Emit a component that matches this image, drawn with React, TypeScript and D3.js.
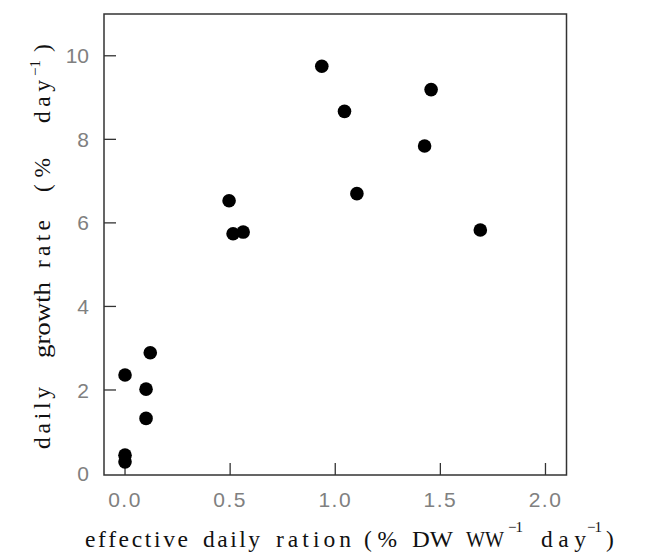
import React from "react";
import * as d3 from "d3";

const rationX: number[] = [0.0, 0.0, 0.0, 0.10, 0.10, 0.12, 0.495, 0.514, 0.562, 0.936, 1.044, 1.103, 1.425, 1.456, 1.690];
const growthY: number[] = [2.36, 0.44, 0.28, 2.02, 1.32, 2.89, 6.53, 5.74, 5.78, 9.75, 8.67, 6.70, 7.84, 9.19, 5.83];
const xTicks: number[] = [0, 0.5, 1.0, 1.5, 2.0];
const xTickLabels: string[] = ["0.0", "0.5", "1.0", "1.5", "2.0"];
const yTicks: number[] = [0, 2, 4, 6, 8, 10];
const yTickLabels: string[] = ["0", "2", "4", "6", "8", "10"];

// x-axis title pieces: [text, start, width, superscript?, squeeze glyphs?]
const xTitle: [string, number, number, boolean, boolean][] = [
  ["effective", 85, 103, false, false],
  ["daily", 203, 57, false, false],
  ["ration", 276, 75, false, false],
  ["(%", 364, 33, false, false],
  ["DW", 412, 41, false, true],
  ["WW", 466, 38, false, true],
  ["−1", 508, 15, true, false],
  ["day", 541, 45, false, false],
  ["−1", 587, 15, true, false],
  [")", 606, 11, false, false],
];
// y-axis title pieces: [text, bottom, length, superscript?, squeeze glyphs?]
const yTitle: [string, number, number, boolean, boolean][] = [
  ["daily", 449, 62, false, false],
  ["growth", 358, 76, false, true],
  ["rate", 268, 48, false, false],
  ["(%", 192, 34, false, false],
  ["day", 123, 43, false, false],
  ["−1", 76, 16, true, false],
  [")", 52, 12, false, false],
];

const W = 661;
const H = 553;
const left = 104, right = 566.5, top = 14, bottom = 475;

export default function App() {
  const x = d3.scaleLinear().domain([-0.1, 2.1]).range([left, right]);
  const y = d3.scaleLinear().domain([-0.035, 11]).range([bottom, top]);
  const pts = rationX.map((v, i) => ({ x: v, y: growthY[i] }));
  const serif = "'Liberation Serif', 'DejaVu Serif', serif";
  const sans = "'Liberation Sans', Arial, sans-serif";
  const axisCol = "#333";
  const labCol = "#808080";
  const tickLen = 12;
  return (
    <svg width={W} height={H} style={{ position: "absolute", left: 0, top: 0, background: "#fff" }}>
      <rect x={0} y={0} width={W} height={H} fill="#fff" />
      <rect x={left} y={top} width={right - left} height={bottom - top} fill="none" stroke={axisCol} strokeWidth={1.5} />
      {xTicks.map((t, i) => (
        <g key={"xt" + i}>
          <line x1={x(t)} x2={x(t)} y1={bottom} y2={bottom - tickLen} stroke={axisCol} strokeWidth={1.3} />
          <text x={x(t)} y={507} textAnchor="middle" fontFamily={sans} fontSize={21} letterSpacing={1.5} fill={labCol}>
            {xTickLabels[i]}
          </text>
        </g>
      ))}
      {yTicks.map((t, i) => (
        <g key={"yt" + i}>
          {t > 0 && <line x1={left} x2={left + tickLen} y1={y(t)} y2={y(t)} stroke={axisCol} strokeWidth={1.3} />}
          <text x={89} y={y(t) + 2} dominantBaseline="middle" textAnchor="end" fontFamily={sans} fontSize={21} fill={labCol}>
            {yTickLabels[i]}
          </text>
        </g>
      ))}
      {pts.map((p, i) => (
        <circle key={"p" + i} cx={x(p.x)} cy={y(p.y)} r={6.8} fill="#000" />
      ))}
      {xTitle.map(([s, x0, w, sup, sq], i) => (
        <text
          key={"xtt" + i}
          x={x0}
          y={sup ? 532 : 547}
          fontFamily={serif}
          fontSize={sup ? 15 : 23.5}
          textLength={w}
          lengthAdjust={sq ? "spacingAndGlyphs" : "spacing"}
          fill="#111"
        >
          {s}
        </text>
      ))}
      <g transform="translate(50,0) rotate(-90)">
        {yTitle.map(([s, b, h, sup, sq], i) => (
          <text
            key={"ytt" + i}
            x={-b}
            y={sup ? -10 : 0}
            fontFamily={serif}
            fontSize={sup ? 15 : 23.5}
            textLength={h}
            lengthAdjust={sq ? "spacingAndGlyphs" : "spacing"}
            fill="#111"
          >
            {s}
          </text>
        ))}
      </g>
    </svg>
  );
}
